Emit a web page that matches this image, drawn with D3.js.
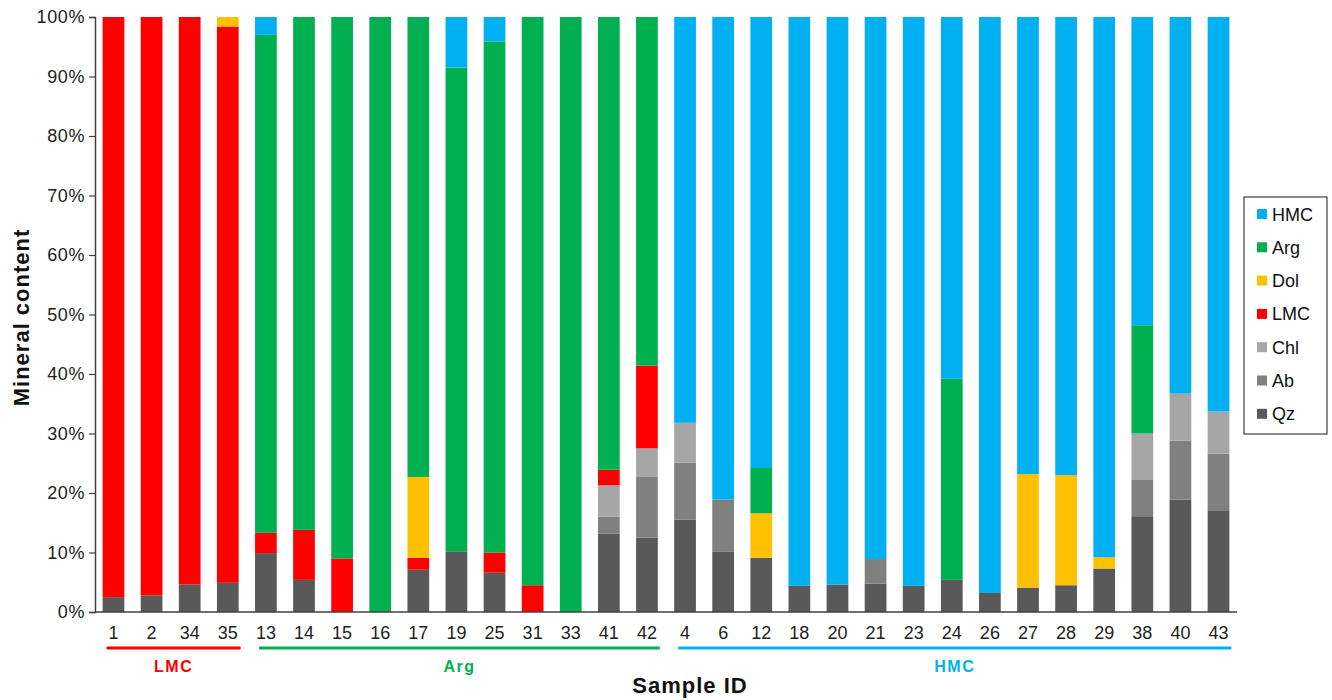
<!DOCTYPE html>
<html>
<head>
<meta charset="utf-8">
<script src="https://cdn.jsdelivr.net/npm/d3@7"></script>
<style>
  body { margin: 0; background: #fff; }
  text { font-family: "Liberation Sans", Arial, sans-serif; }
</style>
</head>
<body>
<svg id="chart" width="1332" height="700"></svg>
<script>
// sample ids, in plotted order
var samples = ["1","2","34","35","13","14","15","16","17","19","25","31","33","41","42",
               "4","6","12","18","20","21","23","24","26","27","28","29","38","40","43"];

// mineral percentages per sample
var Qz  = [2.5,2.8,4.6,4.9, 9.9,5.4,0,0,7.1,10.2,6.6,0,0,13.2,12.5, 15.5,10.1,9.1,4.4,4.6,4.8,4.4,5.4,3.2,4.1,4.5,7.3,16.1,18.9,17.1];
var Ab  = [0,0,0,0, 0,0,0,0,0,0,0,0,0,2.8,10.3, 9.6,8.8,0,0,0,4.1,0,0,0,0,0,0,6.2,9.9,9.5];
var Chl = [0,0,0,0, 0,0,0,0,0,0,0,0,0,5.3,4.7, 6.7,0,0,0,0,0,0,0,0,0,0,0,7.7,7.9,7.1];
var LMC = [97.5,97.2,95.4,93.5, 3.4,8.4,9.0,0,2.0,0,3.4,4.5,0,2.6,13.9, 0,0,0,0,0,0,0,0,0,0,0,0,0,0,0];
var Dol = [0,0,0,1.6, 0,0,0,0,13.6,0,0,0,0,0,0, 0,0,7.5,0,0,0,0,0,0,19.1,18.5,1.9,0,0,0];
var Arg = [0,0,0,0, 83.7,86.2,91.0,100,77.3,81.3,85.9,95.5,100,76.1,58.6, 0,0,7.6,0,0,0,0,33.8,0,0,0,0,18.2,0,0];
var HMC = [0,0,0,0, 3.0,0,0,0,0,8.5,4.1,0,0,0,0, 68.2,81.1,75.8,95.6,95.4,91.1,95.6,60.8,96.8,76.8,77.0,90.8,51.8,63.3,66.3];

var minerals = ["Qz","Ab","Chl","LMC","Dol","Arg","HMC"];
var colors   = ["#595959","#808080","#a6a6a6","#ff0000","#ffc000","#00b050","#00b0f0"];
var series   = [Qz, Ab, Chl, LMC, Dol, Arg, HMC];

// groups shown under the x axis
var groupNames = ["LMC","Arg","HMC"];
var groupFirst = ["1","13","4"];
var groupLast  = ["35","42","43"];
var groupColors = ["#ff0000","#00b050","#00b0f0"];

var yTicks = [0,10,20,30,40,50,60,70,80,90,100];

var rows = samples.map(function(s, i) {
    var r = {id: s};
    minerals.forEach(function(m, j) { r[m] = series[j][i]; });
    return r;
});

var svg = d3.select("#chart");
var plotLeft = 95, plotRight = 1237, plotTop = 17, plotBottom = 612;
var font = "'Liberation Sans', Arial, sans-serif";

var x = d3.scaleBand().domain(samples).range([plotLeft, plotRight]).paddingInner(0.43).paddingOuter(0.2);
var y = d3.scaleLinear().domain([0, 100]).range([plotBottom, plotTop]);
var color = d3.scaleOrdinal().domain(minerals).range(colors);

var stacked = d3.stack().keys(minerals)(rows);

svg.append("g").selectAll("g")
    .data(stacked)
    .enter().append("g")
    .attr("fill", function(d) { return color(d.key); })
    .selectAll("rect")
    .data(function(d) { return d; })
    .enter().append("rect")
    .attr("x", function(d) { return x(d.data.id); })
    .attr("width", x.bandwidth())
    .attr("y", function(d) { return y(d[1]); })
    .attr("height", function(d) { return y(d[0]) - y(d[1]); });

// y axis
var yAxis = d3.axisLeft(y).tickValues(yTicks).tickSize(6).tickFormat(function(d){ return d + "%"; });
var gy = svg.append("g").attr("transform", "translate(" + plotLeft + ",0)").call(yAxis);
gy.select(".domain").attr("stroke", "#404040").attr("stroke-width", 1.5);
gy.selectAll(".tick line").attr("stroke", "#404040").attr("stroke-width", 1.2);
gy.selectAll(".tick text").attr("font-size", 18).attr("fill", "#222").attr("x", -10)
    .attr("letter-spacing", 0.6).attr("font-family", font);

// x axis
var xAxis = d3.axisBottom(x).tickSize(0).tickSizeOuter(0);
var gx = svg.append("g").attr("transform", "translate(0," + plotBottom + ")").call(xAxis);
gx.select(".domain").attr("stroke", "#404040").attr("stroke-width", 1.5)
    .attr("d", "M" + plotLeft + ",0H" + plotRight);
gx.selectAll(".tick text").attr("font-size", 18).attr("fill", "#222").attr("y", 27).attr("dy", 0)
    .attr("font-family", font);

// group brackets
groupNames.forEach(function(g, i) {
    var x0 = x(groupFirst[i]) + 4, x1 = x(groupLast[i]) + x.bandwidth() + 2;
    svg.append("line").attr("x1", x0).attr("x2", x1).attr("y1", 648).attr("y2", 648)
        .attr("stroke", groupColors[i]).attr("stroke-width", 3);
    svg.append("text").attr("x", (x0 + x1) / 2).attr("y", 672).attr("text-anchor", "middle")
        .attr("font-size", 16).attr("font-weight", "bold").attr("letter-spacing", 1.5)
        .attr("fill", groupColors[i]).text(g);
});

// axis titles
svg.append("text").attr("x", 690).attr("y", 693).attr("text-anchor", "middle")
    .attr("font-size", 22).attr("font-weight", "bold").attr("letter-spacing", 1)
    .attr("fill", "#111").text("Sample ID");
svg.append("text").attr("transform", "translate(29," + ((plotTop + plotBottom) / 2 + 3) + ") rotate(-90)")
    .attr("text-anchor", "middle").attr("font-size", 22).attr("font-weight", "bold")
    .attr("letter-spacing", 1).attr("fill", "#111").text("Mineral content");

// legend, HMC on top
var legend = svg.append("g").attr("transform", "translate(1244,197)");
legend.append("rect").attr("width", 83).attr("height", 237).attr("fill", "#fff")
    .attr("stroke", "#404040").attr("stroke-width", 1.2);
minerals.slice().reverse().forEach(function(m, i) {
    var row = legend.append("g").attr("transform", "translate(13," + (17 + i * 33.3) + ")");
    row.append("rect").attr("y", -5).attr("width", 10).attr("height", 10).attr("fill", color(m));
    row.append("text").attr("x", 15).attr("y", 6.5).attr("font-size", 18).attr("fill", "#111").text(m);
});
</script>
</body>
</html>
